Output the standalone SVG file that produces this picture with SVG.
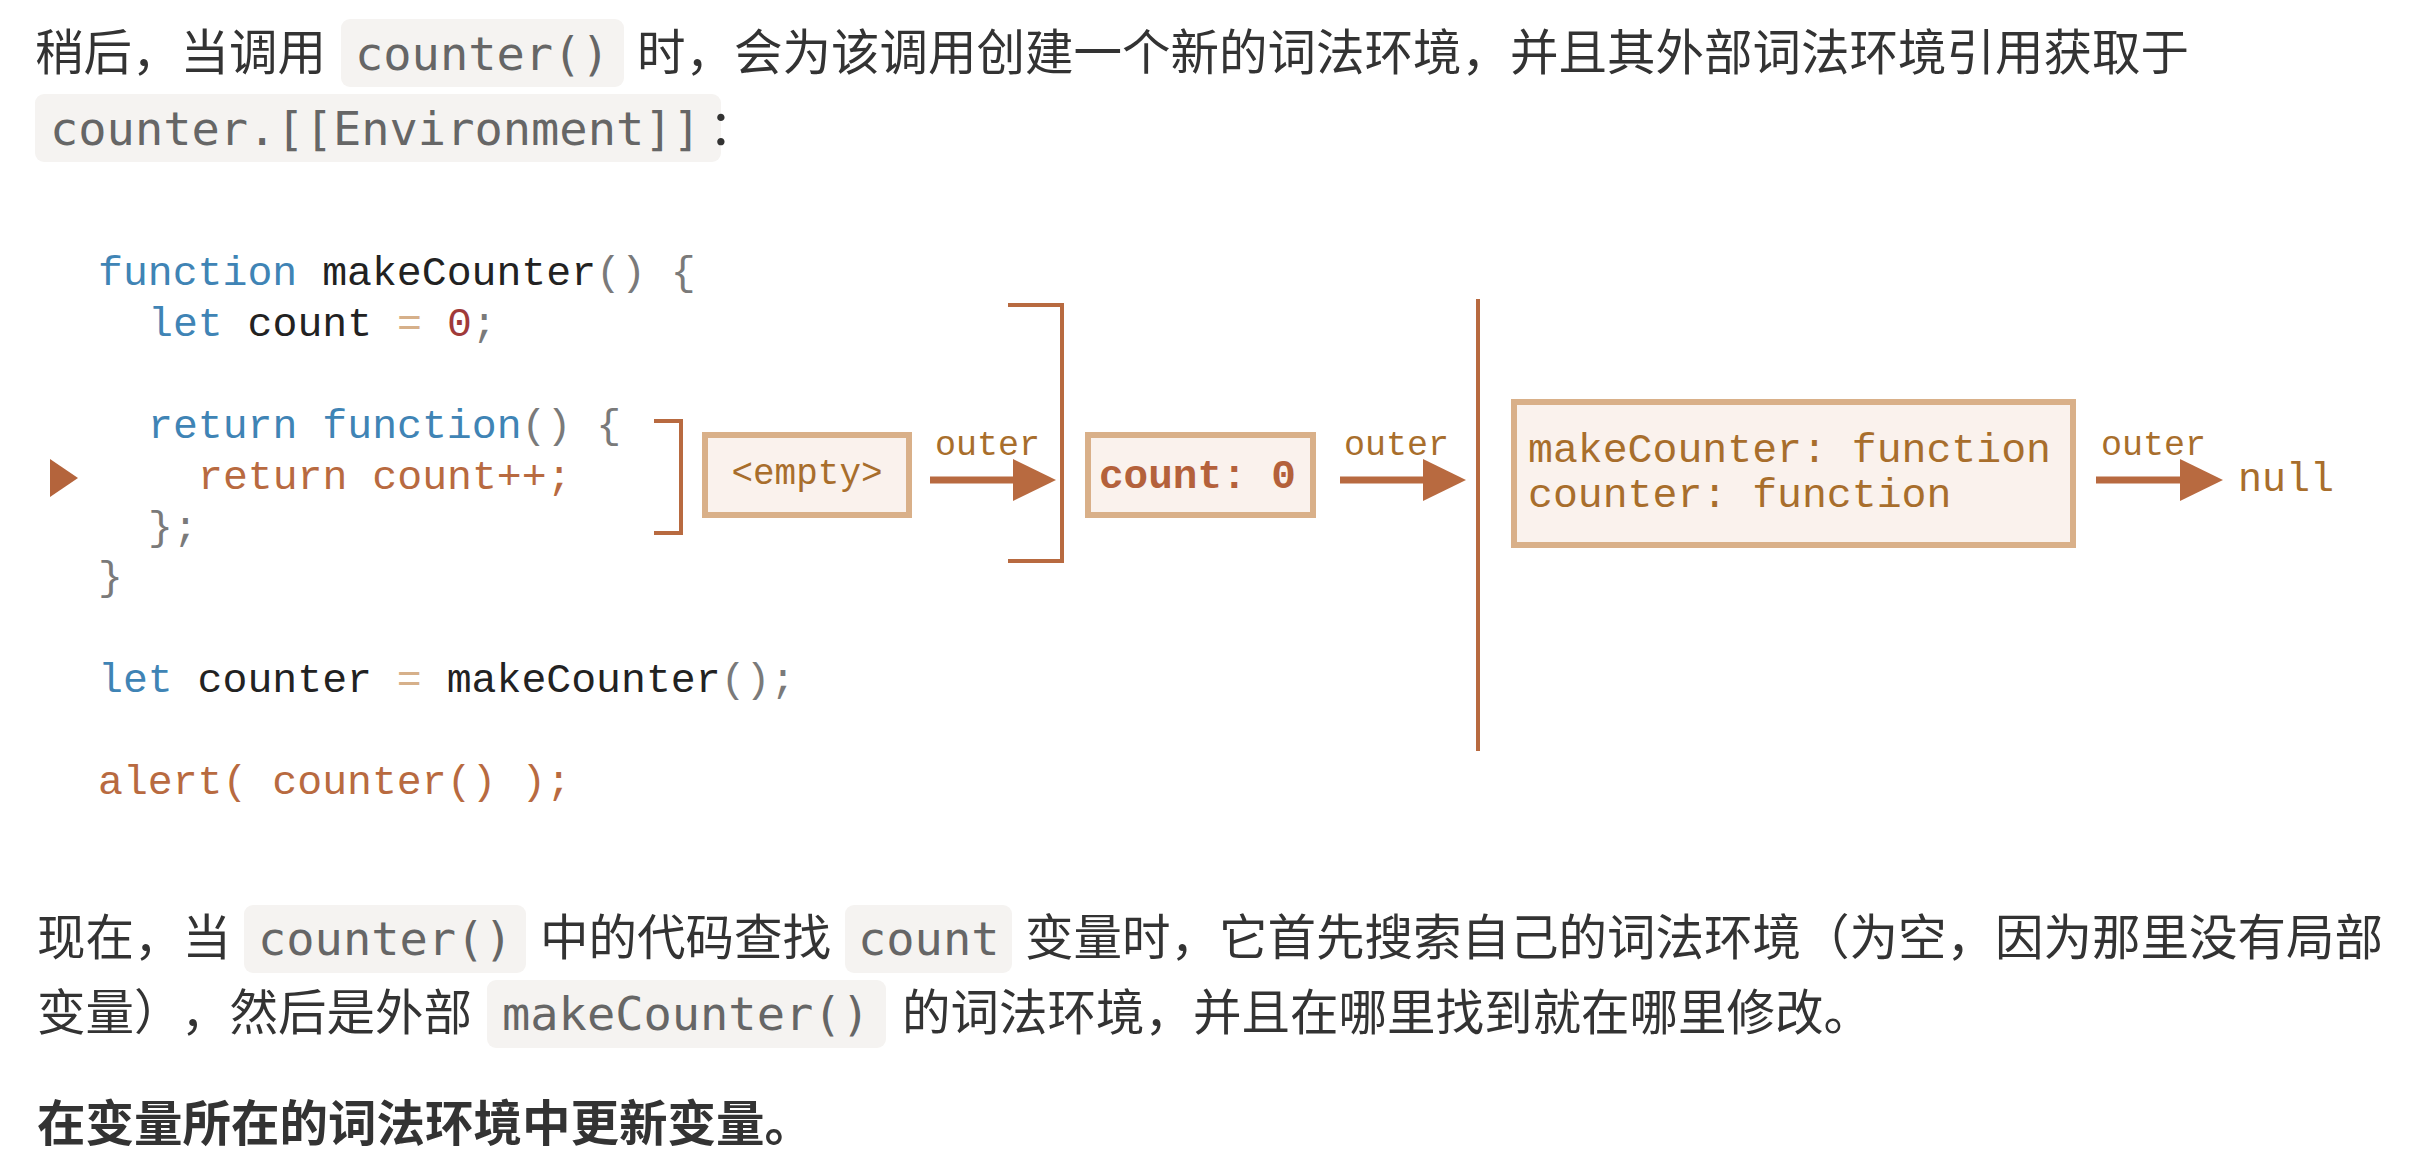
<svg xmlns="http://www.w3.org/2000/svg" width="2432" height="1158" viewBox="0 0 2432 1158">
<defs>
<style>
.p{font-family:"Noto Sans CJK SC","Noto Sans",sans-serif;font-size:48.5px;fill:#333;text-spacing-trim:space-all}
.b{font-weight:bold}
.ic{font-family:"DejaVu Sans Mono","Liberation Mono",monospace;font-size:47px;fill:#666}
.cb{fill:#f5f3f1}
.code{font-family:"Liberation Mono","DejaVu Sans Mono",monospace;font-size:41.5px;fill:#222}
.kw{fill:#3f84b5}
.pu{fill:#7a7a7a}
.op{fill:#d6b08a}
.nu{fill:#a03a3a}
.hl{fill:#b86a40}
.lbl{font-family:"Liberation Mono","DejaVu Sans Mono",monospace;fill:#a86e2c}
.env{fill:#faf2ed;stroke:#d9b089;stroke-width:6}
.br{fill:none;stroke:#b86a40;stroke-width:4}
.ar{stroke:#b86a40;stroke-width:7;fill:none;marker-end:url(#head)}
</style>
<marker id="head" markerUnits="userSpaceOnUse" markerWidth="43" markerHeight="42" viewBox="0 0 43 42" refX="0" refY="21" orient="auto">
<path d="M0,0 L43,21 L0,42 Z" fill="#b86a40"/>
</marker>
</defs>
<rect width="2432" height="1158" fill="#fff"/>

<g id="para1">
<rect class="cb" x="341" y="19" width="283" height="68" rx="9"/>
<rect class="cb" x="35" y="94" width="686" height="68" rx="9"/>
<text class="p" x="35" y="70">稍后，当调用</text>
<text class="ic" x="355" y="70">counter()</text>
<text class="p" x="637" y="70">时，会为该调用创建一个新的词法环境，并且其外部词法环境引用获取于</text>
<text class="ic" x="50" y="145">counter.[[Environment]]</text>
<text class="p" x="733" y="145" text-anchor="middle">：</text>
</g>

<g id="code" class="code">
<text x="98" y="285"><tspan class="kw">function</tspan> makeCounter<tspan class="pu">()</tspan> <tspan class="pu">{</tspan></text>
<text x="148" y="336"><tspan class="kw">let</tspan> count <tspan class="op">=</tspan> <tspan class="nu">0</tspan><tspan class="pu">;</tspan></text>
<text x="148" y="438"><tspan class="kw">return</tspan> <tspan class="kw">function</tspan><tspan class="pu">()</tspan> <tspan class="pu">{</tspan></text>
<text x="198" y="489" class="hl">return count++;</text>
<text x="148" y="540" class="pu">};</text>
<text x="98" y="590" class="pu">}</text>
<text x="98" y="692"><tspan class="kw">let</tspan> counter <tspan class="op">=</tspan> makeCounter<tspan class="pu">();</tspan></text>
<text x="98" y="794" class="hl">alert( counter() );</text>
</g>

<g id="marker-current">
<polygon points="50,459 78,478 50,497" fill="#b4643c"/>
</g>

<g id="env-empty">
<rect class="env" x="705" y="435" width="204" height="80"/>
<text class="lbl" x="807" y="484" font-size="36" text-anchor="middle">&lt;empty&gt;</text>
</g>

<g id="env-count">
<rect class="env" x="1088" y="435" width="225" height="80"/>
<text class="lbl" x="1099" y="488" font-size="41" font-weight="bold" style="fill:#b4613b">count: 0</text>
</g>

<g id="env-global">
<rect class="env" x="1514" y="402" width="559" height="143"/>
<text class="lbl" x="1528" y="462" font-size="41.5">makeCounter: function</text>
<text class="lbl" x="1528" y="507" font-size="41.5">counter: function</text>
</g>

<g id="null">
<text class="lbl" x="2238" y="491" font-size="40">null</text>
</g>

<g id="connectors">
<path class="br" d="M654,421 H681 V533 H654"/>
<path class="br" d="M1008,305 H1062 V561 H1008"/>
<line x1="1478" y1="299" x2="1478" y2="751" stroke="#b86a40" stroke-width="4"/>
<line class="ar" x1="930" y1="480" x2="1013" y2="480"/>
<line class="ar" x1="1340" y1="480" x2="1423" y2="480"/>
<line class="ar" x1="2096" y1="480" x2="2180" y2="480"/>
<text class="lbl" x="935" y="455" font-size="35">outer</text>
<text class="lbl" x="1344" y="455" font-size="35">outer</text>
<text class="lbl" x="2101" y="455" font-size="35">outer</text>
</g>

<g id="para2">
<rect class="cb" x="244" y="905" width="282" height="68" rx="9"/>
<rect class="cb" x="845" y="905" width="167" height="68" rx="9"/>
<rect class="cb" x="487" y="980" width="399" height="68" rx="9"/>
<text class="p" x="37" y="955">现在，当</text>
<text class="ic" x="258" y="955">counter()</text>
<text class="p" x="540" y="955">中的代码查找</text>
<text class="ic" x="858" y="955">count</text>
<text class="p" x="1025" y="955">变量时，它首先搜索自己的词法环境（为空，因为那里没有局部</text>
<text class="p" x="37" y="1030">变量）</text>
<text class="p" x="181" y="1030">，然后是外部</text>
<text class="ic" x="502" y="1030">makeCounter()</text>
<text class="p" x="902" y="1030">的词法环境，并且在哪里找到就在哪里修改。</text>
<text class="p b" x="37" y="1141">在变量所在的词法环境中更新变量。</text>
</g>
</svg>
